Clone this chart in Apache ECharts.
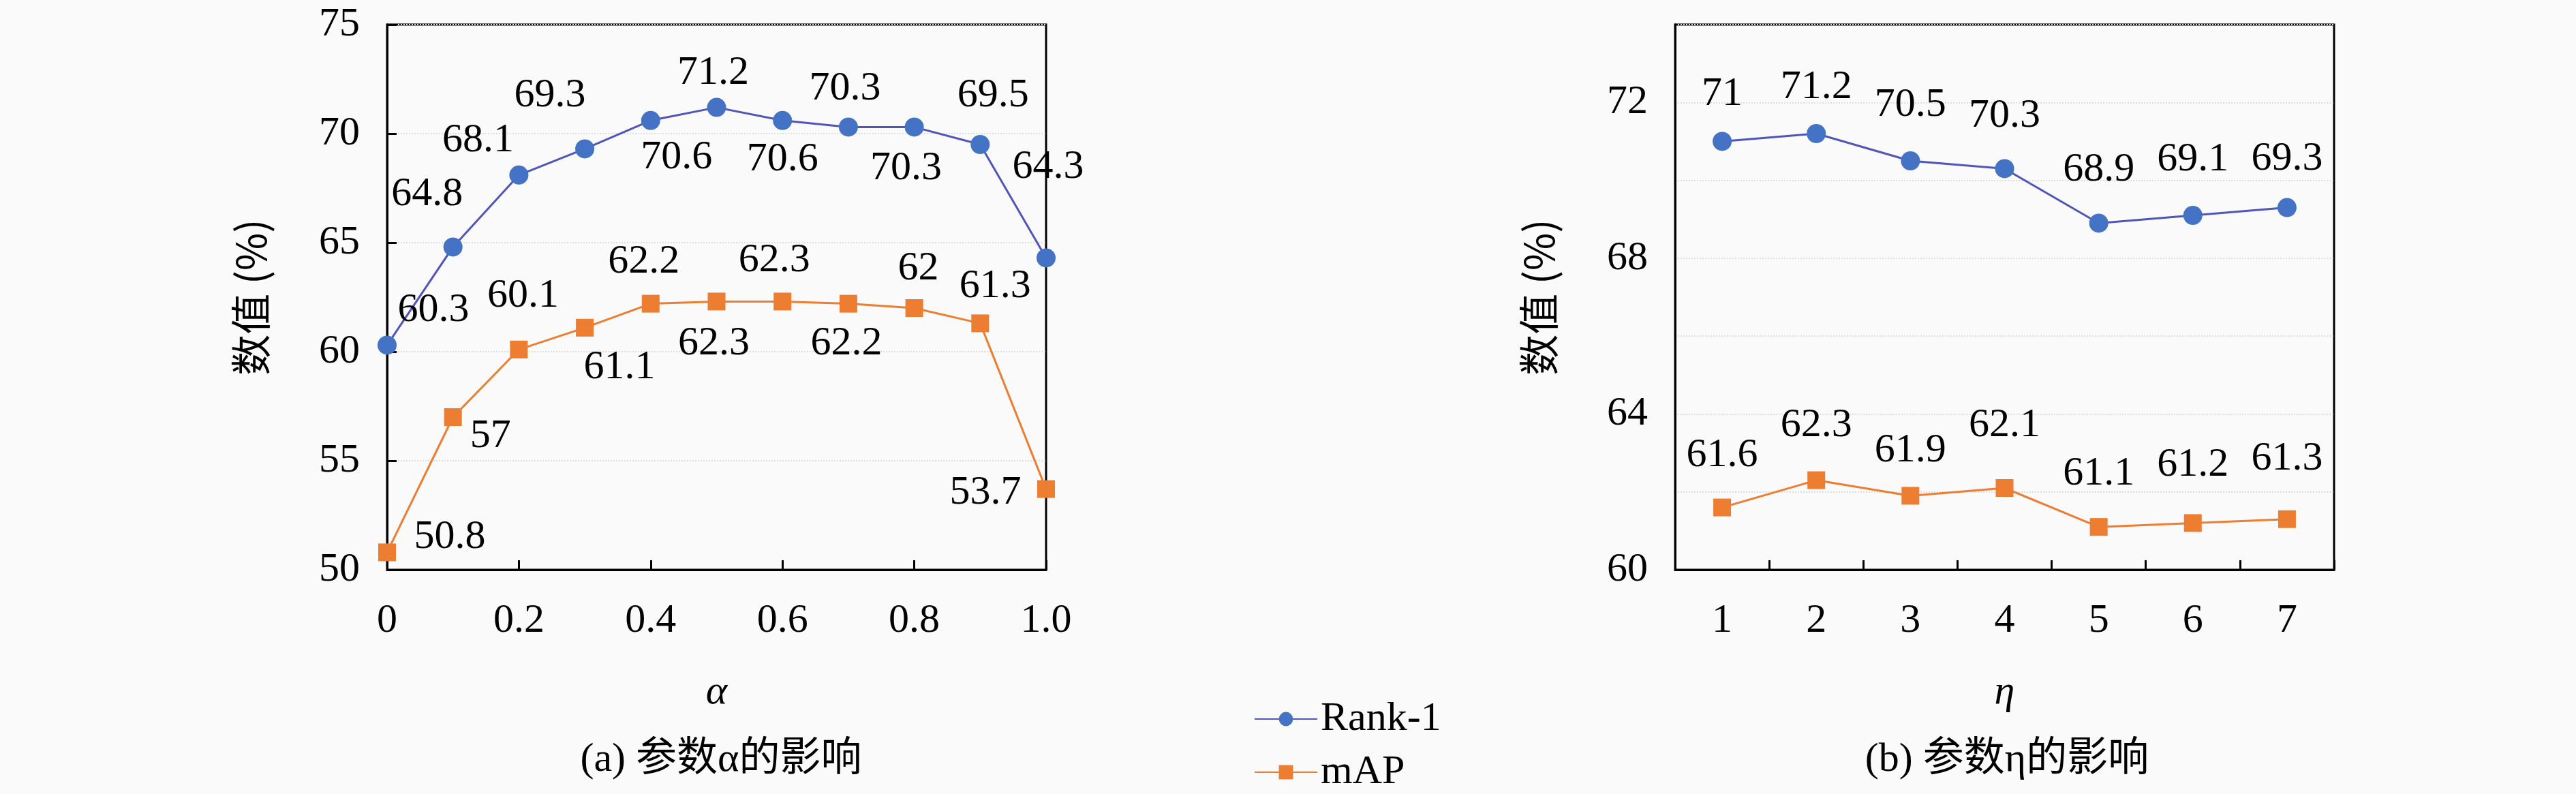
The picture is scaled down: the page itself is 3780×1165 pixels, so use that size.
<!DOCTYPE html>
<html><head><meta charset="utf-8">
<script src="https://cdn.jsdelivr.net/npm/echarts@6/dist/echarts.min.js"></script>
<style>html,body{margin:0;padding:0;background:#fafafa}#c{width:3780px;height:1165px}</style>
</head><body><div id="c"></div>
<script>
const alphaVals = [0,0.1,0.2,0.3,0.4,0.5,0.6,0.7,0.8,0.9,1.0];
const rankA = [60.3,64.8,68.1,69.3,70.6,71.2,70.6,70.3,70.3,69.5,64.3];
const mapA  = [50.8,57,60.1,61.1,62.2,62.3,62.3,62.2,62,61.3,53.7];
const etaCats = ['1','2','3','4','5','6','7'];
const rankB = [71,71.2,70.5,70.3,68.9,69.1,69.3];
const mapB  = [61.6,62.3,61.9,62.1,61.1,61.2,61.3];

// label offsets (pixels) relative to each marker
const rankPosA = [[68,-51],[-38,-77],[-60,-51],[-51,-78],[38,54],[-5,-50],[0,57],[-5,-56],[-12,61],[19,-72],[3,-133]];
const mapPosA  = [[92,-22],[55,28],[6,-79],[51,58],[-10,-61],[-4,62],[-12,-60],[-3,59],[6,-58],[22,-54],[-89,6]];
const rankOffB = [-69,-68,-82,-77,-78,-82,-71];
const mapOffB  = [-76,-80,-66,-92,-78,-85,-88];

const F = 'Liberation Serif, DejaVu Serif, serif';
const CJK = '"Noto Sans CJK SC", sans-serif';
const blue = '#4472C4', orange = '#ED7D31';
const fs = 60;

function lbl(pos){ return {show:true, position:'inside', offset:pos, fontFamily:F, fontSize:fs, color:'#000'}; }
function ptsA(vals, pos){ return vals.map((v,i)=>({value:[alphaVals[i], v], label:lbl(pos[i])})); }
function ptsB(vals, offs){ return vals.map((v,i)=>({value:v, label:lbl([0,offs[i]])})); }

const axisCommon = {
  axisLine:{show:true, lineStyle:{color:'#000', width:3}},
  axisTick:{show:true, inside:true, length:14, lineStyle:{color:'#000', width:3}},
  axisLabel:{fontFamily:F, fontSize:fs, color:'#000'},
  nameTextStyle:{fontFamily:F, fontSize:fs, color:'#000', fontStyle:'italic'}
};
const legendText = {fontFamily:F, fontSize:fs, color:'#000'};

const chart = echarts.init(document.getElementById('c'));
chart.setOption({
  backgroundColor:'#fafafa',
  animation:false,
  grid:[
    {left:568, width:967, top:36, height:800, show:true, borderColor:'#000', borderWidth:3},
    {left:2458, width:967, top:36, height:800, show:true, borderColor:'#000', borderWidth:3}
  ],
  legend:[
    {left:1835, top:1020, itemWidth:92, itemHeight:26, itemGap:20, textStyle:legendText, data:['Rank-1']},
    {left:1835, top:1098, itemWidth:92, itemHeight:26, itemGap:20, textStyle:legendText, data:['mAP']}
  ],
  title:[
    {text:'(a) 参数α的影响', left:1053, top:1080, textAlign:'center', textStyle:{fontFamily:F+','+CJK, fontSize:fs, fontWeight:'normal', color:'#000'}},
    {text:'(b) 参数η的影响', left:2940, top:1080, textAlign:'center', textStyle:{fontFamily:F+','+CJK, fontSize:fs, fontWeight:'normal', color:'#000'}}
  ],
  xAxis:[
    Object.assign({}, axisCommon, {type:'value', gridIndex:0, min:0, max:1, interval:0.2,
      name:'α', nameLocation:'middle', nameGap:150, splitLine:{show:false},
      axisLabel:Object.assign({}, axisCommon.axisLabel, {margin:45, formatter:v=> v===0?'0':v.toFixed(1)})}),
    Object.assign({}, axisCommon, {type:'category', gridIndex:1, data:etaCats, boundaryGap:true,
      name:'η', nameLocation:'middle', nameGap:150, splitLine:{show:false},
      axisTick:{show:true, inside:true, length:14, lineStyle:{color:'#000', width:3}},
      axisLabel:Object.assign({}, axisCommon.axisLabel, {margin:45})})
  ],
  yAxis:[
    Object.assign({}, axisCommon, {type:'value', gridIndex:0, min:50, max:75, interval:5,
      name:'数值 (%)', nameLocation:'middle', nameGap:170,
      nameTextStyle:{fontFamily:CJK, fontSize:fs, color:'#000'},
      splitLine:{show:true, lineStyle:{color:'#ddd', type:'dotted', width:2}},
      axisLabel:Object.assign({}, axisCommon.axisLabel, {margin:40})}),
    Object.assign({}, axisCommon, {type:'value', gridIndex:1, min:60, max:74, interval:2,
      name:'数值 (%)', nameLocation:'middle', nameGap:170,
      nameTextStyle:{fontFamily:CJK, fontSize:fs, color:'#000'},
      splitLine:{show:true, lineStyle:{color:'#ddd', type:'dotted', width:2}},
      axisTick:{show:false},
      axisLabel:Object.assign({}, axisCommon.axisLabel, {margin:40, formatter:v=> v%4===0 && v<74 ? String(v) : ''})})
  ],
  series:[
    {name:'Rank-1', type:'line', xAxisIndex:0, yAxisIndex:0, data:ptsA(rankA, rankPosA),
      symbol:'circle', symbolSize:28, itemStyle:{color:blue}, lineStyle:{color:'#5055b8', width:3}},
    {name:'mAP', type:'line', xAxisIndex:0, yAxisIndex:0, data:ptsA(mapA, mapPosA),
      symbol:'rect', symbolSize:26, itemStyle:{color:orange}, lineStyle:{color:orange, width:3}},
    {name:'Rank-1', type:'line', xAxisIndex:1, yAxisIndex:1, data:ptsB(rankB, rankOffB),
      symbol:'circle', symbolSize:28, itemStyle:{color:blue}, lineStyle:{color:'#5055b8', width:3}},
    {name:'mAP', type:'line', xAxisIndex:1, yAxisIndex:1, data:ptsB(mapB, mapOffB),
      symbol:'rect', symbolSize:26, itemStyle:{color:orange}, lineStyle:{color:orange, width:3}}
  ]
});
</script></body></html>
